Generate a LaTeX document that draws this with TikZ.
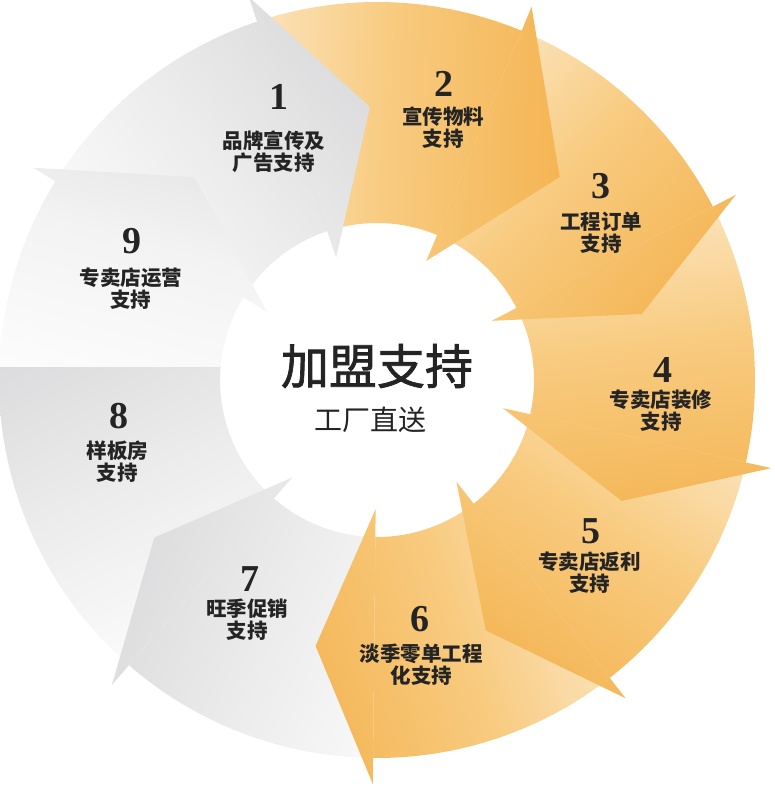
\documentclass[tikz,border=0pt]{standalone}
\usepackage{fontspec}
\newfontfamily\cjk{Noto Sans CJK SC}
\newfontfamily\cjktitle{Noto Sans CJK SC}[FakeBold=1.5]
\newfontfamily\numfont{Liberation Serif}
\definecolor{txt}{HTML}{242424}
\definecolor{gL}{HTML}{FFFFFF}
\definecolor{gM}{HTML}{EDEDED}
\definecolor{gN}{HTML}{F3F3F3}
\definecolor{gD}{HTML}{D9D9DB}
\definecolor{oL}{HTML}{FDEFD9}
\definecolor{oM}{HTML}{F8CB80}
\definecolor{oD}{HTML}{F4B24E}
\tikzset{
  num/.style={font=\numfont\bfseries\fontsize{38}{38}\selectfont, text=txt, inner sep=0pt},
  lab/.style={font=\cjk\bfseries\fontsize{20.5}{22}\selectfont, text=txt, align=center, inner sep=0pt},
}
% ring body between tail angle #1 and head angle #2
\newcommand{\ringbody}[2]{(#1:378) arc[start angle=#1, end angle=#2, radius=378] -- (#2:157) arc[start angle=#2, end angle=#1, radius=157] -- cycle}
% arrow head: base angle #1, tip angle #2
\newcommand{\headtri}[2]{(#1:404) -- (#2:273) -- (#1:129) -- cycle}
% shading: #1 mid angle, #2 light, #3 middle, #4 dark, #5 offset toward head
\newcommand{\segshadeoff}[5]{\shade[left color=#2, right color=#4, middle color=#3, shading angle=#1, shift={(#1:267)}, shift={(#1-90:#5)}] (-200,-200) rectangle (200,200);}
\newcommand{\segshade}[4]{\segshadeoff{#1}{#2}{#3}{#4}{0}}
\begin{document}
\begin{tikzpicture}[x=1pt,y=1pt]
\useasboundingbox (-377,-407) rectangle (398,380);
% ---------- bodies ----------
\begin{scope}\clip \ringbody{148.3}{107.5}; \segshade{128.4}{gL}{gM}{gD}\end{scope}
\begin{scope}\clip \ringbody{108.5}{66.5}; \segshade{88}{oL}{oM}{oD}\end{scope}
\begin{scope}\clip \ringbody{67.5}{26.3}; \segshade{47.4}{oL}{oM}{oD}\end{scope}
\begin{scope}\clip \ringbody{27.3}{-13.6}; \segshade{7.3}{oL}{oM}{oD}\end{scope}
\begin{scope}\clip \ringbody{-12.6}{-53}; \segshade{-32.3}{oL}{oM}{oD}\end{scope}
\begin{scope}\clip \ringbody{-52}{-91.6}; \segshade{-71.3}{oL}{oM}{oD}\end{scope}
\begin{scope}\clip \ringbody{-90.6}{-132}; \segshade{-110.8}{gL}{gM}{gD}\end{scope}
\begin{scope}\clip (-420,-420) rectangle (0,13.5); \clip \ringbody{-131}{-192}; \segshade{-155}{gL}{gM}{gD}\end{scope}
\begin{scope}\clip (-420,13) rectangle (0,420); \clip \ringbody{192}{147.3}; \segshadeoff{165}{gL}{gN}{gD}{70}\end{scope}
% ---------- heads ----------
\begin{scope}\clip \headtri{108.5}{91.5}; \segshade{128.4}{gL}{gM}{gD}\end{scope}
\begin{scope}\clip \headtri{67.5}{48}; \segshade{88}{oL}{oM}{oD}\end{scope}
\begin{scope}\clip \headtri{27.3}{14}; \segshade{47.4}{oL}{oM}{oD}\end{scope}
\begin{scope}\clip \headtri{-12.6}{-26.3}; \segshade{7.3}{oL}{oM}{oD}\end{scope}
\begin{scope}\clip \headtri{-52}{-66.5}; \segshade{-32.3}{oL}{oM}{oD}\end{scope}
\begin{scope}\clip \headtri{-90.6}{-103}; \segshade{-71.3}{oL}{oM}{oD}\end{scope}
\begin{scope}\clip \headtri{-131}{-144.7}; \segshade{-110.8}{gL}{gM}{gD}\end{scope}
\begin{scope}\clip \headtri{148.3}{132}; \segshadeoff{165}{gL}{gN}{gD}{70}\end{scope}
% ---------- texts ----------
\node[num] (n1) at (-97.5,283.5) {1};
\node[lab] (l1) at (-103,228) {品牌宣传及\\广告支持};
\node[num] (n2) at (67,296.5) {2};
\node[lab] (l2) at (66,252.5) {宣传物料\\支持};
\node[num] (n3) at (223.5,194) {3};
\node[lab] (l3) at (224,147) {工程订单\\支持};
\node[num] (n4) at (286,10) {4};
\node[lab] (l4) at (284,-31) {专卖店装修\\支持};
\node[num] (n5) at (214,-151.5) {5};
\node[lab] (l5) at (212.5,-193) {专卖店返利\\支持};
\node[num] (n6) at (43,-239.5) {6};
\node[lab] (l6) at (44.5,-285) {淡季零单工程\\化支持};
\node[num] (n7) at (-127,-199.5) {7};
\node[lab] (l7) at (-129.5,-240) {旺季促销\\支持};
\node[num] (n8) at (-258,-36.5) {8};
\node[lab] (l8) at (-259.5,-81.5) {样板房\\支持};
\node[num] (n9) at (-245,138.5) {9};
\node[lab] (l9) at (-246,91.5) {专卖店运营\\支持};
\node[font=\cjktitle\fontsize{48}{48}\selectfont, text=txt, inner sep=0pt] (title) at (0,14) {加盟支持};
\node[font=\cjk\fontsize{28}{28}\selectfont, text=txt, inner sep=0pt] (sub) at (-7,-40) {工厂直送};
\end{tikzpicture}
\end{document}
